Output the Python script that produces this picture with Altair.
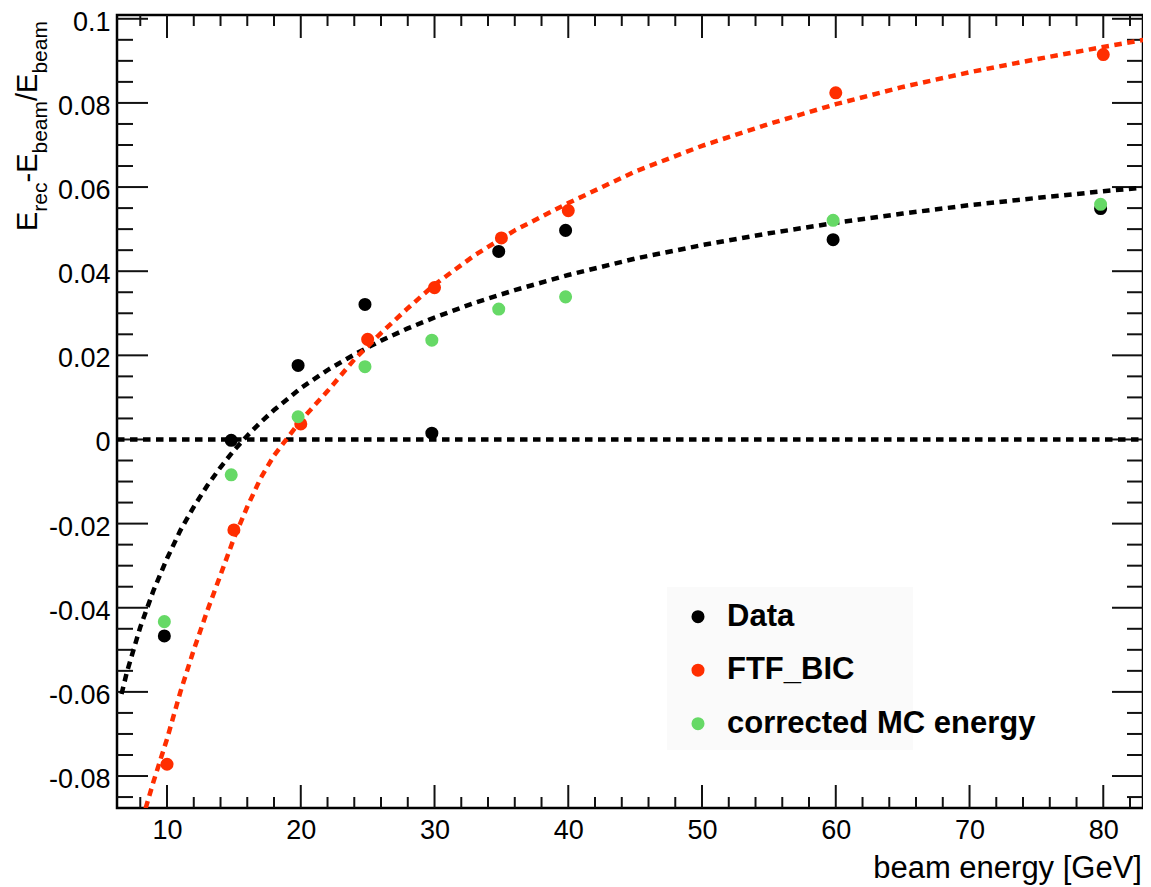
import altair as alt
import pandas as pd

# ---------------- data ----------------
x_data = [9.8, 14.8, 19.8, 24.8, 29.8, 34.8, 39.8, 59.8, 79.8]
y_data = [-0.0467, -0.0002, 0.0176, 0.0321, 0.0015, 0.0447, 0.0497, 0.0475, 0.0549]

x_ftf = [10, 15, 20, 25, 30, 35, 40, 60, 80]
y_ftf = [-0.0772, -0.0215, 0.0037, 0.0238, 0.0361, 0.0479, 0.0544, 0.0824, 0.0915]

x_corr = [9.8, 14.8, 19.8, 24.8, 29.8, 34.8, 39.8, 59.8, 79.8]
y_corr = [-0.0433, -0.0084, 0.0054, 0.0173, 0.0236, 0.0310, 0.0339, 0.0521, 0.0559]

# fitted curve of Data (black dashed)
fit_data_x = [6.6, 7, 8, 9, 10, 11, 12, 13, 14, 15, 16, 17, 18, 20, 22, 24, 26, 28, 30,
              33, 36, 40, 45, 50, 55, 60, 65, 70, 75, 80, 83.42]
fit_data_y = [-0.0605, -0.0553, -0.0446, -0.0358, -0.0283, -0.0216, -0.0160, -0.0110,
              -0.0066, -0.0026, 0.0009, 0.0041, 0.0070, 0.0122, 0.0165, 0.0202, 0.0235,
              0.0264, 0.0290, 0.0325, 0.0355, 0.0391, 0.0430, 0.0462, 0.0490, 0.0515,
              0.0537, 0.0557, 0.0574, 0.0590, 0.0600]

# fitted curve of FTF_BIC (red dashed)
fit_ftf_x = [8.4, 9, 10, 11, 12, 13, 14, 15, 16, 17, 18, 20, 22, 24, 26, 28, 30, 33, 36,
             40, 45, 50, 55, 60, 65, 70, 75, 80, 83.42]
fit_ftf_y = [-0.0877, -0.0812, -0.0712, -0.0600, -0.0500, -0.0408, -0.0322, -0.0235,
             -0.0160, -0.0092, -0.0038, 0.0045, 0.0115, 0.0190, 0.0253, 0.0312, 0.0368,
             0.0438, 0.0497, 0.0562, 0.0637, 0.0698, 0.0750, 0.0797, 0.0838, 0.0873,
             0.0904, 0.0933, 0.0952]

zero_x = [6.26, 83.42]
zero_y = [0.0, 0.0]

series_names = ["Data", "FTF_BIC", "corrected MC energy"]
series_colors = ["#000000", "#ff2e00", "#66d966"]

x_major = [10, 20, 30, 40, 50, 60, 70, 80]
x_minor = [8, 12, 14, 16, 18, 22, 24, 26, 28, 32, 34, 36, 38, 42, 44, 46, 48, 52, 54,
           56, 58, 62, 64, 66, 68, 72, 74, 76, 78, 82]
y_major = [-0.08, -0.06, -0.04, -0.02, 0.0, 0.02, 0.04, 0.06, 0.08, 0.1]
y_minor = [-0.085, -0.075, -0.07, -0.065, -0.055, -0.05, -0.045, -0.035, -0.03, -0.025,
           -0.015, -0.01, -0.005, 0.005, 0.01, 0.015, 0.025, 0.03, 0.035, 0.045, 0.05,
           0.055, 0.065, 0.07, 0.075, 0.085, 0.09, 0.095]

# ---------------- layout ----------------
W, H = 1026, 793
FONT = "Liberation Sans"
xs = alt.Scale(domain=[6.26, 82.97], nice=False, zero=False)
ys = alt.Scale(domain=[-0.0876, 0.1009], nice=False, zero=False)

ax_x = alt.Axis(values=x_major, format="d", ticks=False, tickSize=0, domain=False,
                grid=False, labelFont=FONT, labelFontSize=27, labelColor="black",
                labelPadding=9, title=None, labelFlush=False, labelOverlap=False)
ax_y = alt.Axis(values=y_major,
                labelExpr="replace(format(datum.value, '~g'), '\u2212', '-')",
                ticks=False, tickSize=0, domain=False, grid=False, labelFont=FONT,
                labelFontSize=27, labelColor="black", labelPadding=7, labelOffset=3.5,
                title=None, labelFlush=False, labelOverlap=False)

one = pd.DataFrame({"a": [0]})
layers = []

# faint legend box
layers.append(alt.Chart(one).mark_rect(fill="#fafafa").encode(
    x=alt.value(550), x2=alt.value(796), y=alt.value(572), y2=alt.value(735)))

# inward ticks on all four sides
TICK_COLOR = "#111111"
def xticks(vals, length):
    df = pd.DataFrame({"v": vals})
    base = alt.Chart(df).mark_rule(color=TICK_COLOR, strokeWidth=2)
    bottom = base.encode(x=alt.X("v:Q", scale=xs, axis=ax_x),
                         y=alt.value(H), y2=alt.value(H - length))
    top = base.encode(x=alt.X("v:Q", scale=xs, axis=ax_x),
                      y=alt.value(0), y2=alt.value(length))
    return [bottom, top]

def yticks(vals, length):
    df = pd.DataFrame({"v": vals})
    base = alt.Chart(df).mark_rule(color=TICK_COLOR, strokeWidth=2)
    left = base.encode(y=alt.Y("v:Q", scale=ys, axis=ax_y),
                       x=alt.value(0), x2=alt.value(length))
    right = base.encode(y=alt.Y("v:Q", scale=ys, axis=ax_y),
                        x=alt.value(W), x2=alt.value(W - length))
    return [left, right]

layers += xticks(x_major, 23) + xticks(x_minor, 11)
layers += yticks(y_major, 31) + yticks(y_minor, 16)

DASH = [7.5, 5.5]
LW = 4.5
# zero line
zero_df = pd.DataFrame({"x": zero_x, "y": zero_y})
layers.append(alt.Chart(zero_df).mark_line(color="black", strokeWidth=LW, strokeDash=DASH,
                                           clip=True).encode(
    x=alt.X("x:Q", scale=xs, axis=ax_x), y=alt.Y("y:Q", scale=ys, axis=ax_y)))

# fit curves
fd = pd.DataFrame({"x": fit_data_x, "y": fit_data_y})
ff = pd.DataFrame({"x": fit_ftf_x, "y": fit_ftf_y})
layers.append(alt.Chart(fd).mark_line(color=series_colors[0], strokeWidth=LW,
                                      strokeDash=DASH, clip=True).encode(
    x=alt.X("x:Q", scale=xs, axis=ax_x), y=alt.Y("y:Q", scale=ys, axis=ax_y)))
layers.append(alt.Chart(ff).mark_line(color=series_colors[1], strokeWidth=LW,
                                      strokeDash=DASH, clip=True).encode(
    x=alt.X("x:Q", scale=xs, axis=ax_x), y=alt.Y("y:Q", scale=ys, axis=ax_y)))

# points
pts = pd.DataFrame({
    "x": x_data + x_ftf + x_corr,
    "y": y_data + y_ftf + y_corr,
    "series": [series_names[0]] * len(x_data) + [series_names[1]] * len(x_ftf)
              + [series_names[2]] * len(x_corr),
})
legend = alt.Legend(orient="none", legendX=565.5, legendY=586.2, title=None,
                    labelFont=FONT, labelFontSize=31, labelFontWeight="bold",
                    labelColor="black", symbolSize=170, symbolType="circle",
                    symbolStrokeWidth=0, symbolOpacity=1, rowPadding=21.5,
                    labelOffset=13.5, padding=0, labelLimit=600)
layers.append(alt.Chart(pts).mark_circle(size=170, opacity=1).encode(
    x=alt.X("x:Q", scale=xs, axis=ax_x),
    y=alt.Y("y:Q", scale=ys, axis=ax_y),
    color=alt.Color("series:N", scale=alt.Scale(domain=series_names, range=series_colors),
                    legend=legend, sort=series_names),
))

# x axis title
layers.append(alt.Chart(one).mark_text(text="beam energy [GeV]", align="right",
                                       baseline="alphabetic", font=FONT, fontSize=31,
                                       color="black").encode(
    x=alt.value(1025), y=alt.value(863)))

# y axis title with subscripts: E_rec - E_beam / E_beam
adv = {"E": 0.667, "r": 0.333, "e": 0.556, "c": 0.5, "-": 0.333, "b": 0.556,
       "a": 0.556, "m": 0.833, "/": 0.278}
segments = [("E", False), ("rec", True), ("-E", False), ("beam", True),
            ("/E", False), ("beam", True)]
MAIN, SUB = 29, 21
ypos = 216.0
for txt, is_sub in segments:
    fs = SUB if is_sub else MAIN
    xb = -70 if is_sub else -80
    layers.append(alt.Chart(one).mark_text(text=txt, angle=270, align="left",
                                           baseline="alphabetic", font=FONT,
                                           fontSize=fs, color="black").encode(
        x=alt.value(xb), y=alt.value(ypos)))
    ypos -= sum(adv[ch] for ch in txt) * fs

chart = alt.layer(*layers).properties(
    width=W, height=H,
    padding={"left": 109, "top": 7, "right": 0, "bottom": 79},
    autosize=alt.AutoSizeParams(type="none"),
    background="white",
).configure_view(stroke="black", strokeWidth=2.5)

chart.save("out.html", embed_options={"renderer": "svg", "actions": False})
